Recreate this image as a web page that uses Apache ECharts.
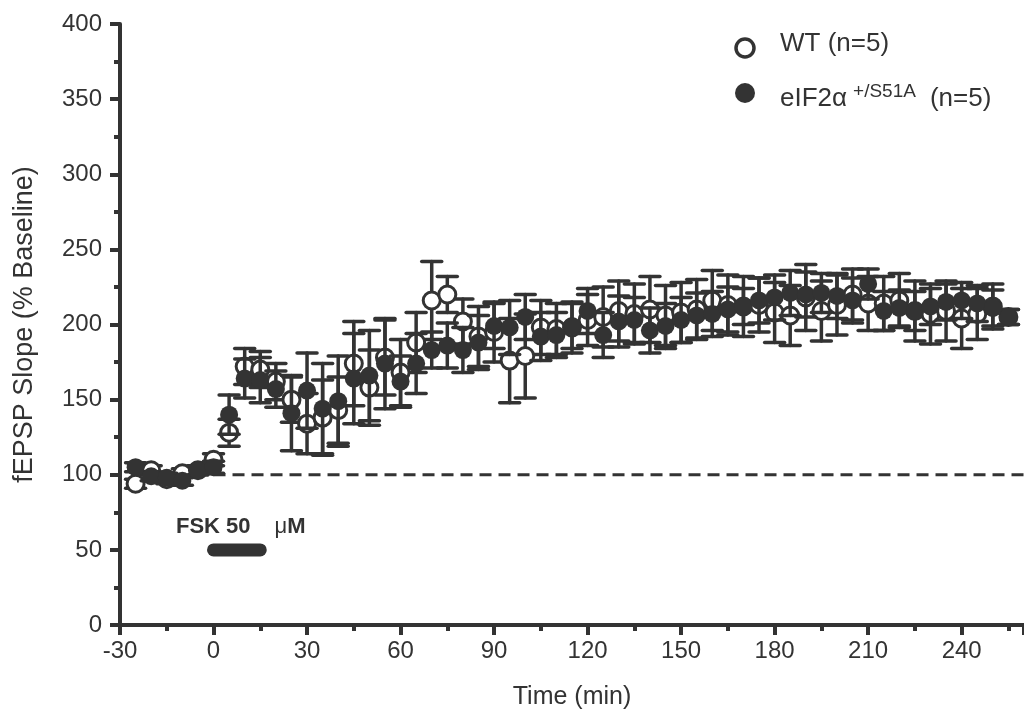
<!DOCTYPE html>
<html>
<head>
<meta charset="utf-8">
<script src="https://cdn.jsdelivr.net/npm/echarts@6/dist/echarts.min.js"></script>
<style>
  html, body { margin: 0; padding: 0; background: #fff; }
  #chart { width: 1024px; height: 719px; }
</style>
</head>
<body>
<div id="chart"></div>
<script>
// time points (min)
var times = [-25, -20, -15, -10, -5, 0, 5, 10, 15, 20, 25, 30, 35, 40, 45, 50, 55, 60, 65, 70,
  75, 80, 85, 90, 95, 100, 105, 110, 115, 120, 125, 130, 135, 140, 145, 150, 155, 160, 165, 170,
  175, 180, 185, 190, 195, 200, 205, 210, 215, 220, 225, 230, 235, 240, 245, 250, 255];

// WT (open circles), mean and SEM
var wtMean = [94, 103, 97, 101, 103, 110, 128, 172, 170, 162, 150, 134, 138, 143, 174, 158, 178, 168, 188, 216,
  220, 202, 192, 195, 176, 179, 198, 197, 198, 203, 205, 209, 207, 210, 206, 208, 210, 216, 213, 212,
  213, 208, 206, 218, 209, 213, 220, 214, 214, 216, 209, 207, 209, 204, 207, 212, 205];
var wtErr = [3, 3, 3, 3, 3, 4, 9, 12, 12, 12, 15, 20, 25, 22, 28, 25, 25, 22, 20, 26,
  12, 15, 20, 20, 28, 28, 18, 17, 17, 17, 20, 20, 20, 22, 20, 20, 20, 20, 20, 20,
  18, 20, 20, 22, 20, 20, 17, 18, 18, 18, 20, 20, 20, 20, 17, 15, 5];

// eIF2a+/S51A (filled circles), mean and SEM
var mutMean = [105, 99, 98, 96, 103, 105, 140, 164, 163, 157, 141, 156, 144, 149, 164, 166, 174, 162, 174, 183,
  186, 183, 188, 199, 198, 205, 192, 193, 199, 209, 193, 202, 203, 196, 199, 203, 206, 207, 210, 212,
  216, 218, 221, 220, 221, 219, 216, 227, 209, 211, 209, 212, 215, 216, 214, 211, 205];
var mutErr = [3, 3, 3, 3, 3, 4, 13, 13, 15, 12, 25, 25, 30, 30, 30, 30, 30, 17, 20, 12,
  15, 15, 18, 15, 18, 15, 16, 15, 15, 15, 15, 17, 15, 15, 15, 15, 15, 15, 15, 12,
  15, 15, 15, 15, 13, 15, 15, 10, 13, 12, 13, 12, 12, 12, 12, 12, 5];

// baseline and drug application (start, end, level)
var baseline = [[0, 100], [260, 100]];
var fskBar = [[0, 15, 50]];

var ink = '#333';

function points(mean) {
  var out = [];
  for (var i = 0; i < times.length; i++) out.push([times[i], mean[i]]);
  return out;
}
function bars(mean, err) {
  var out = [];
  for (var i = 0; i < times.length; i++) out.push([times[i], mean[i] - err[i], mean[i] + err[i]]);
  return out;
}

function errorBar(params, api) {
  var x = api.value(0);
  var lo = api.coord([x, api.value(1)]);
  var hi = api.coord([x, api.value(2)]);
  var hw = 10;
  var st = { stroke: ink, lineWidth: 3.5, lineCap: 'round' };
  return {
    type: 'group',
    children: [
      { type: 'line', shape: { x1: lo[0], y1: lo[1], x2: hi[0], y2: hi[1] }, style: st },
      { type: 'line', shape: { x1: hi[0] - hw, y1: hi[1], x2: hi[0] + hw, y2: hi[1] }, style: st },
      { type: 'line', shape: { x1: lo[0] - hw, y1: lo[1], x2: lo[0] + hw, y2: lo[1] }, style: st }
    ]
  };
}

// rounded bar for the drug application period
function drugBar(params, api) {
  var a = api.coord([api.value(0), api.value(2)]);
  var b = api.coord([api.value(1), api.value(2)]);
  var h = 13;
  return {
    type: 'rect',
    shape: { x: a[0] - h / 2, y: a[1] - h / 2, width: b[0] - a[0] + h, height: h, r: h / 2 },
    style: { fill: ink }
  };
}

var font = 'Liberation Sans, Arial, sans-serif';
var chart = echarts.init(document.getElementById('chart'));

var option = {
  backgroundColor: '#fff',
  animation: false,
  grid: { left: 120, right: 0, top: 24, bottom: 94 },
  xAxis: {
    type: 'value',
    min: -30, max: 260, interval: 30,
    name: 'Time (min)',
    nameLocation: 'middle',
    nameGap: 60,
    nameTextStyle: { color: ink, fontSize: 25, fontFamily: font },
    axisLine: { onZero: false, lineStyle: { color: ink, width: 4 } },
    axisTick: { length: 10, lineStyle: { color: ink, width: 4 } },
    minorTick: { show: true, splitNumber: 2, length: 6, lineStyle: { color: ink, width: 4 } },
    axisLabel: { color: ink, fontSize: 24, fontFamily: font, margin: 14, showMaxLabel: false },
    splitLine: { show: false }
  },
  yAxis: {
    type: 'value',
    min: 0, max: 400, interval: 50,
    name: 'fEPSP Slope (% Baseline)',
    nameLocation: 'middle',
    nameGap: 82,
    nameTextStyle: { color: ink, fontSize: 27, fontFamily: font },
    axisLine: { onZero: false, lineStyle: { color: ink, width: 4 } },
    axisTick: { length: 10, lineStyle: { color: ink, width: 4 } },
    minorTick: { show: true, splitNumber: 2, length: 6, lineStyle: { color: ink, width: 4 } },
    axisLabel: { color: ink, fontSize: 24, fontFamily: font, margin: 18 },
    splitLine: { show: false }
  },
  series: [
    {
      type: 'line', data: baseline, symbol: 'none', silent: true,
      lineStyle: { color: ink, width: 3, type: [12, 7] }, z: 1
    },
    { type: 'custom', name: 'FSK', data: fskBar, renderItem: drugBar, silent: true, z: 1 },
    { type: 'custom', name: 'wtErr', data: bars(wtMean, wtErr), renderItem: errorBar, z: 2 },
    {
      type: 'scatter', name: 'WT (n=5)', data: points(wtMean), symbol: 'circle', symbolSize: 17,
      itemStyle: { color: '#fff', borderColor: ink, borderWidth: 3, opacity: 1 }, z: 3
    },
    { type: 'custom', name: 'mutErr', data: bars(mutMean, mutErr), renderItem: errorBar, z: 4 },
    {
      type: 'scatter', name: 'eIF2a', data: points(mutMean), symbol: 'circle', symbolSize: 18,
      itemStyle: { color: ink, opacity: 1 }, z: 5
    }
  ],
  graphic: [
    // FSK label
    {
      type: 'text', left: 176, top: 516,
      style: {
        text: '{b|FSK 50}{n|\u03bc}{b|M}',
        rich: {
          b: { fontSize: 22, fontWeight: 'bold', fill: ink, fontFamily: font },
          n: { fontSize: 22, fill: ink, fontFamily: font, padding: [0, 0, 0, 24] }
        }
      }
    },
    // legend
    { type: 'circle', shape: { cx: 745, cy: 48, r: 9 }, style: { fill: '#fff', stroke: ink, lineWidth: 3.5 } },
    {
      type: 'text', left: 780, top: 31,
      style: { text: 'WT (n=5)', fontSize: 26, fill: ink, fontFamily: font }
    },
    { type: 'circle', shape: { cx: 745, cy: 93, r: 10 }, style: { fill: ink } },
    {
      type: 'text', left: 780, top: 78,
      style: {
        text: '{a|eIF2\u03b1}{s|+/S51A}{c|(n=5)}',
        rich: {
          a: { fontSize: 26, fill: ink, fontFamily: font, lineHeight: 34, verticalAlign: 'bottom' },
          s: { fontSize: 19, fill: ink, fontFamily: font, lineHeight: 34, verticalAlign: 'top', padding: [4, 0, 0, 6] },
          c: { fontSize: 26, fill: ink, fontFamily: font, lineHeight: 34, verticalAlign: 'bottom', padding: [0, 0, 0, 14] }
        }
      }
    }
  ]
};

chart.setOption(option);
</script>
</body>
</html>
